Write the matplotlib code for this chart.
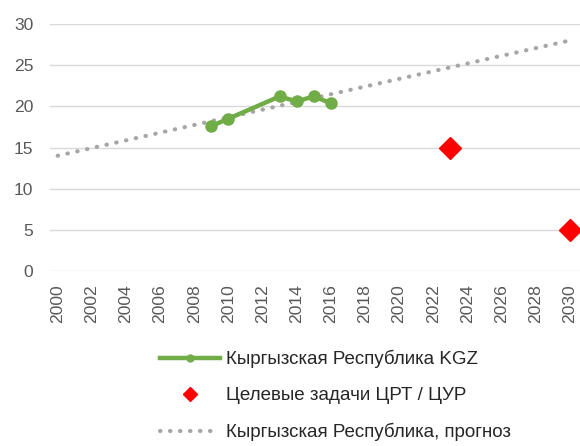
import matplotlib
matplotlib.use("Agg")
import matplotlib.pyplot as plt

# Данные
years_kgz = [2009, 2010, 2013, 2014, 2015, 2016]
values_kgz = [17.6, 18.5, 21.2, 20.6, 21.2, 20.4]

years_target = [2023, 2030]
values_target = [15, 5]

years_trend = [2000, 2030]
values_trend = [14.0, 28.0]

xticks = list(range(2000, 2031, 2))
yticks = [0, 5, 10, 15, 20, 25, 30]

plt.rcParams['font.family'] = ['Liberation Sans', 'DejaVu Sans']

fig = plt.figure(figsize=(5.8, 4.46), dpi=100)
ax = fig.add_axes([50 / 580, 1 - 271 / 446, 530 / 580, 247 / 446])

ax.plot(years_trend, values_trend, linestyle=(0, (0.1, 2.3)), dash_capstyle='round',
        color='#a6a6a6', linewidth=3.0, label='Кыргызская Республика, прогноз', zorder=2)
ax.plot(years_kgz, values_kgz, color='#70ad47', linewidth=3.2, marker='o', markersize=8,
        label='Кыргызская Республика KGZ', zorder=3)
ax.plot(years_target, values_target, linestyle='none', marker='D', markersize=11,
        color='#ff0000', label='Целевые задачи ЦРТ / ЦУР', zorder=4, clip_on=False)

ax.set_xlim(1999.55, 2030.6)
ax.set_ylim(0, 30)
ax.set_xticks(xticks)
ax.set_xticklabels([str(y) for y in xticks], rotation=90)
ax.set_yticks(yticks)
ax.tick_params(axis='both', length=0, labelsize=12.6, colors='#595959')
ax.tick_params(axis='x', pad=9.5)
ax.tick_params(axis='y', pad=12)
ax.grid(axis='y', color='#d9d9d9', linewidth=1)
ax.set_axisbelow(True)
for s in ax.spines.values():
    s.set_visible(False)

h, l = ax.get_legend_handles_labels()
order = [1, 2, 0]
leg = fig.legend([h[i] for i in order], [l[i] for i in order],
                 loc='upper left', bbox_to_anchor=(160 / 580, 1 - 350 / 446),
                 frameon=False, fontsize=13.5, handlelength=3.2, handletextpad=0.3,
                 labelspacing=1.0, borderaxespad=0, borderpad=0)
for t in leg.get_texts():
    t.set_color('#262626')
lh = leg.legend_handles
lh[0].set_markersize(5)
lh[1].set_markersize(7)

fig.savefig('out.png', dpi=100)
